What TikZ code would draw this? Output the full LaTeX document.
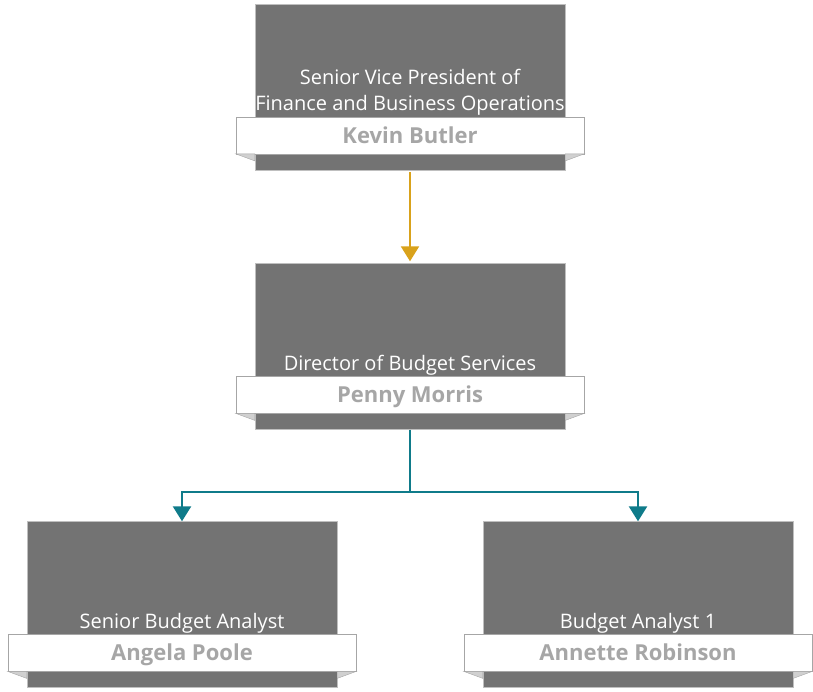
\documentclass[tikz,border=0pt]{standalone}
\usepackage{fontspec}
\setmainfont{Open Sans}
\usetikzlibrary{positioning,arrows.meta}
\definecolor{boxgray}{HTML}{737373}
\definecolor{boxline}{HTML}{BFBFBF}
\definecolor{ribline}{HTML}{A6A6A6}
\definecolor{foldgray}{HTML}{D0D0D0}
\definecolor{namegray}{HTML}{A6A6A6}
\definecolor{goldline}{HTML}{D9A21B}
\definecolor{tealline}{HTML}{0F7B8A}
\tikzset{
  post/.style={draw=boxline, fill=boxgray, minimum width=310pt, minimum height=166pt, inner sep=0pt},
  ribbon/.style={draw=ribline, fill=white, minimum width=348pt, minimum height=37pt, inner sep=0pt,
    text height=18pt, text depth=2pt,
    font=\fontsize{22}{24}\selectfont\bfseries, text=namegray},
  title/.style={text=white, align=center, inner sep=0pt, font=\fontsize{20}{26}\selectfont},
  fold/.style={fill=foldgray, draw=ribline},
  goldarrow/.style={draw=goldline, line width=2pt, -{Triangle[width=18pt,length=15pt]}},
  tealarrow/.style={draw=tealline, line width=2.5pt, -{Triangle[width=18pt,length=15pt]}}
}
\begin{document}
\begin{tikzpicture}[x=1pt, y=-1pt]
\useasboundingbox (0,0) rectangle (813,691);
%% boxes
\node[post] (svp) at (410,87) {};
\node[post] (dir) at (410,346.5) {};
\node[post] (sba) at (182,604.5) {};
\node[post] (ba) at (638,604.5) {};
%% name ribbons
\node[ribbon, yshift=35pt] (svpn) at (svp.south) {Kevin Butler};
\node[ribbon, yshift=35pt] (dirn) at (dir.south) {Penny Morris};
\node[ribbon, yshift=35pt] (sban) at (sba.south) {Angela Poole};
\node[ribbon, yshift=35pt] (ban) at (ba.south) {Annette Robinson};
%% folds under the ribbons
\foreach \b in {svp,dir,sba,ba}{
  \draw[fold] (\b n.south west) -- (\b.west |- \b n.south) -- ++(0,7) -- cycle;
  \draw[fold] (\b n.south east) -- (\b.east |- \b n.south) -- ++(0,7) -- cycle;
}
%% titles
\node[title, above=1pt of svpn] (svpt) {Senior Vice President of\\Finance and Business Operations};
\node[title, above=1pt of dirn] (dirt) {Director of Budget Services};
\node[title, above=1pt of sban] (sbat) {Senior Budget Analyst};
\node[title, above=1pt of ban] (bat) {Budget Analyst 1};
%% connectors
\draw[goldarrow, shorten <=2pt, shorten >=2pt] (svp.south) -- (dir.north);
\coordinate (fork) at (410,492);
\draw[tealline, line width=2.5pt] (dir.south) -- (fork);
\draw[tealarrow] (fork) -| (sba.north);
\draw[tealarrow] (fork) -| (ba.north);
\end{tikzpicture}
\end{document}
